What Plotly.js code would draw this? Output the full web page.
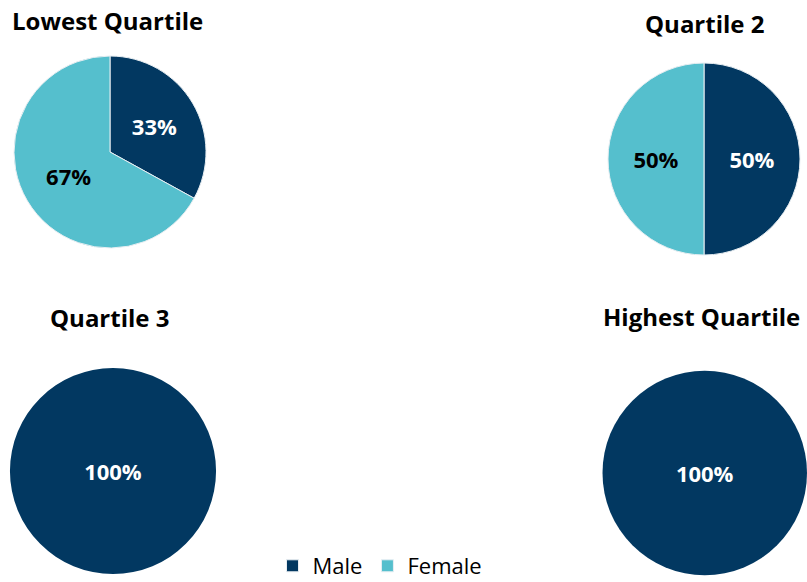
<!DOCTYPE html>
<html>
<head>
<meta charset="utf-8">
<script src="https://cdn.plot.ly/plotly-3.0.1.min.js"></script>
<style>html,body{margin:0;padding:0;background:#fff;}#chart{width:807px;height:582px;}</style>
</head>
<body>
<div id="chart"></div>
<script>
const categories = ["Male", "Female"];
const quartiles = ["Lowest Quartile", "Quartile 2", "Quartile 3", "Highest Quartile"];
const lowestQuartile = [33, 67];
const quartile2 = [50, 50];
const quartile3 = [100, 0];
const highestQuartile = [100, 0];
const colors = ["#023861", "#55BFCD"];

const W = 807, H = 582;
// pie geometry in pixels: [cx, cy(from top), r]
const geom = [[110, 152, 96], [704, 159, 96], [113, 471, 103], [705, 473, 102.5]];
const titlePos = [[108, 21], [704, 24], [109, 317], [701, 316]];
const series = [lowestQuartile, quartile2, quartile3, highestQuartile];

const traces = series.map((vals, i) => {
  const [cx, cy, r] = geom[i];
  const total = vals.reduce((a, b) => a + b, 0);
  const full = vals.some(v => v === 0);
  return {
    type: "pie",
    labels: categories,
    values: vals,
    name: quartiles[i],
    sort: false,
    direction: "clockwise",
    rotation: 0,
    marker: {colors: colors, line: {color: "#e8eef2", width: full ? 0 : 1}},
    text: vals.map(v => v > 0 ? Math.round(v / total * 100) + "%" : ""),
    textinfo: "text",
    textposition: "inside",
    insidetextorientation: "horizontal",
    insidetextfont: {family: "Open Sans", size: 22, color: ["#ffffff", "#000000"], weight: "bold"},
    hoverinfo: "label+percent",
    domain: {
      x: [Math.max(0, (cx - r) / W), Math.min(1, (cx + r) / W)],
      y: [Math.max(0, (H - cy - r) / H), Math.min(1, (H - cy + r) / H)]
    },
    showlegend: i === 0
  };
});

const annotations = quartiles.map((q, i) => ({
  text: "<b>" + q + "</b>",
  x: titlePos[i][0] / W,
  y: 1 - titlePos[i][1] / H,
  xref: "paper", yref: "paper",
  xanchor: "center", yanchor: "middle",
  showarrow: false,
  font: {family: "Open Sans", size: 24, color: "#000000"}
}));

const layout = {
  width: W, height: H,
  margin: {l: 0, r: 0, t: 0, b: 0, autoexpand: false},
  paper_bgcolor: "#ffffff",
  showlegend: true,
  legend: {
    orientation: "h", x: 380 / W, xanchor: "center", y: -5 / H, yanchor: "bottom",
    font: {family: "Open Sans", size: 22, color: "#000000"},
    traceorder: "normal", itemwidth: 30
  },
  annotations: annotations
};

Plotly.newPlot("chart", traces, layout, {displayModeBar: false, staticPlot: true});
</script>
</body>
</html>
